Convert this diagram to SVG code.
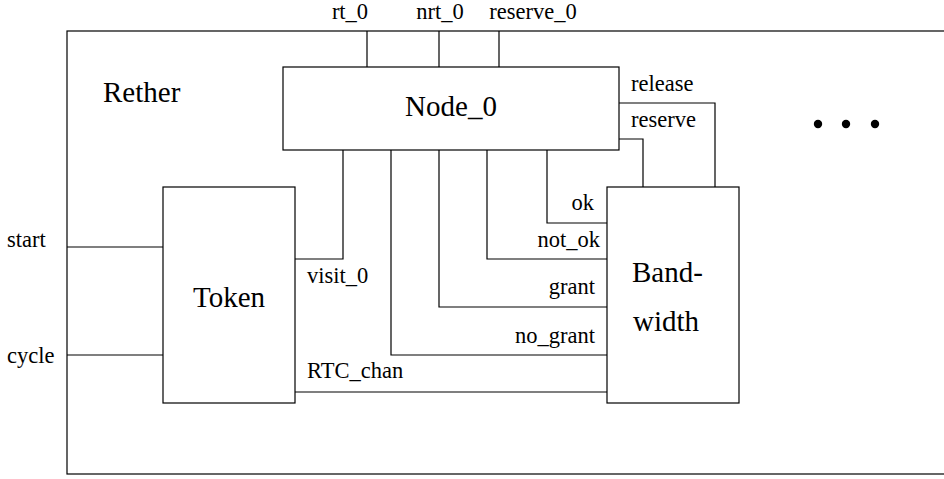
<svg xmlns="http://www.w3.org/2000/svg" width="944" height="479" viewBox="0 0 944 479" font-family="'Liberation Serif', 'Nimbus Roman', 'Nimbus Roman No9 L', 'Noto Serif', FreeSerif, 'Times New Roman', Times, 'DejaVu Serif', serif">
<style>
.box{fill:#fff;stroke:#000;stroke-width:1.2}
.w{fill:none;stroke:#000;stroke-width:1.2}
.s{font-size:22.5px}
.b{font-size:29px}
</style>
<rect id="rether" x="67" y="31" width="900" height="443" class="box"/>
<text class="b" x="103" y="102">Rether</text>
<g id="connectors">
<path class="w" d="M367 31V67M439 31V67M499 31V67"/>
<path class="w" d="M619 103H715V187M619 139H643V187"/>
<path class="w" d="M547 150V223H607M487 150V259H607M439 150V307H607M391 150V355H607M343 150V259H295"/>
<path class="w" d="M295 392H607M67 247H163M67 355H163"/>
</g>
<g id="node0"><rect x="283" y="67" width="336" height="83" class="box"/><text class="b" x="451" y="116" text-anchor="middle">Node_0</text></g>
<g id="token"><rect x="163" y="187" width="132" height="216" class="box"/><text class="b" x="229" y="307" text-anchor="middle">Token</text></g>
<g id="bandwidth"><rect x="607" y="187" width="132" height="216" class="box"/><text class="b" x="632" y="282">Band-</text><text class="b" x="633" y="331">width</text></g>
<g id="labels" class="s">
<text x="350" y="19" text-anchor="middle">rt_0</text>
<text x="440" y="19" text-anchor="middle">nrt_0</text>
<text x="533" y="19" text-anchor="middle">reserve_0</text>
<text x="631" y="91">release</text>
<text x="631" y="127">reserve</text>
<text x="594" y="210" text-anchor="end">ok</text>
<text x="600" y="247" text-anchor="end">not_ok</text>
<text x="595" y="294" text-anchor="end">grant</text>
<text x="595" y="343" text-anchor="end">no_grant</text>
<text x="307" y="283">visit_0</text>
<text x="307" y="378">RTC_chan</text>
<text x="7" y="247">start</text>
<text x="7" y="363">cycle</text>
</g>
<g id="dots"><circle cx="818" cy="124" r="4.2"/><circle cx="846" cy="124" r="4.2"/><circle cx="875" cy="124" r="4.2"/></g>
</svg>
